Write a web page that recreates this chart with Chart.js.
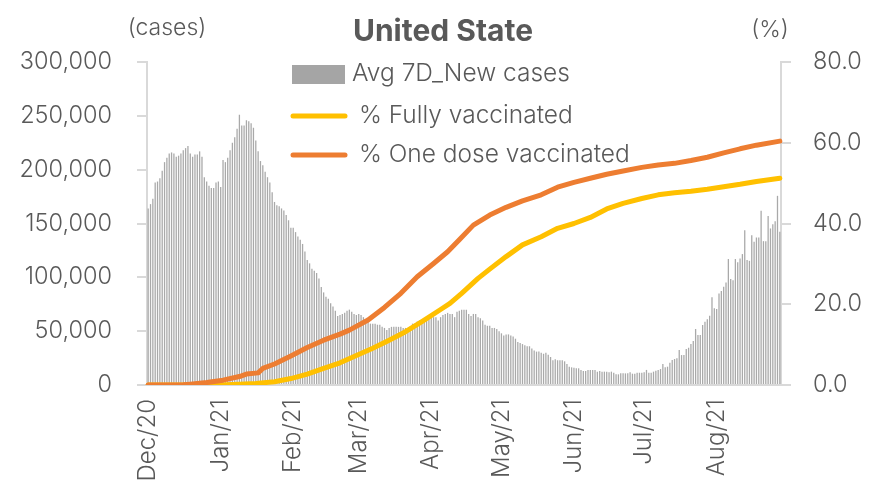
<!DOCTYPE html>
<html>
<head>
<meta charset="utf-8">
<script src="https://cdn.jsdelivr.net/npm/chart.js@4.4.1/dist/chart.umd.min.js"></script>
<style>
  html, body { margin: 0; padding: 0; background: #ffffff; }
  #wrap { width: 875px; height: 497px; position: relative; }
</style>
</head>
<body>
<div id="wrap"><canvas id="c" width="875" height="497"></canvas></div>
<script>
// ---- Data ----
const startDate = '2020-12-01';
const dayCount = 271;
const monthNames = ['Jan','Feb','Mar','Apr','May','Jun','Jul','Aug','Sep','Oct','Nov','Dec'];

// 7-day average of new cases, in thousands, one value per day from 1 Dec 2020
const newCasesK = [
  164,168,173,188,189,192,199,207,211,215,216,215,212,213,215,218,220,222,215,212,
  214,214,217,212,193,189,185,183,183,188,189,184,209,207,211,218,225,230,238,251,
  241,241,246,245,243,239,227,217,208,204,198,193,188,179,170,167,166,164,162,158,
  153,146,146,142,138,135,131,124,116,113,108,106,104,99,91,86,82,80,76,73,
  69,64,65,66,67,69,70,68,66,65,66,65,63,61,59,57,57,57,56,56,
  54,53,51,53,54,54,54,54,54,53,53,53,54,57,57,59,60,60,62,63,
  63,64,63,63,60,63,65,66,67,66,66,63,68,69,70,70,70,66,64,66,
  66,63,62,60,56,55,55,53,53,52,50,48,46,47,47,46,45,43,40,39,
  38,37,36,36,34,32,31,31,30,29,30,28,26,23,24,23,23,23,22,19.5,
  17,16.4,16,15.5,15.5,14,13,13,14,14,14,14,12.4,13,12.4,12.4,12.4,11.8,12.4,11.4,
  9.9,9.9,10.8,10.8,10.8,10.8,11.8,10.5,10.5,11.4,11.4,11.4,11.8,14,11.4,11.4,12.4,13.3,14,14.8,
  19.5,16.4,17,20.7,23.2,24.1,24.8,32.5,27.8,27.8,33.4,34.6,38,40.8,52,46.4,46.4,55.7,58.8,61,
  64.3,81.4,71.2,70.5,85,87.2,91.2,95.3,117,98.4,97.4,117,113.9,117.6,121.6,143.8,116,115.3,139.2,133,
  137,137,161.8,133.6,133.6,157,145.4,149.4,152.2,175.7,142.3
];

// % one dose vaccinated: [day index, value]
const oneDoseDays = [0,10,15,18,25,32,39,42,47,49,54,61,68,75,82,86,94,101,108,115,122,128,133,139,146,153,160,168,175,182,189,196,203,211,218,225,232,239,246,253,260,270];
const oneDosePct  = [0,0,0.05,0.2,0.6,1.2,2.1,2.7,3.0,4.1,5.2,7.2,9.3,11.1,12.6,13.6,16.1,19.2,22.7,26.8,30.1,33.0,36.0,39.6,42.1,44.0,45.6,47.1,49.0,50.2,51.2,52.2,53.0,53.9,54.5,54.9,55.6,56.4,57.5,58.5,59.4,60.4];

// % fully vaccinated: [day index, value]
const fullyDays = [0,30,39,46,54,61,68,75,82,89,96,103,110,117,125,129,134,141,146,153,160,168,175,182,189,196,203,211,218,225,232,239,246,253,260,270];
const fullyPct  = [0,0,0.2,0.4,0.8,1.6,2.7,4.1,5.5,7.3,9.1,11.1,13.2,15.7,18.7,20.2,22.7,26.4,28.7,31.8,34.7,36.7,38.8,40.0,41.5,43.6,45.0,46.2,47.1,47.6,48.0,48.5,49.1,49.7,50.4,51.2];

const leftTicks = { min: 0, max: 300000, step: 50000 };
const rightTicks = { min: 0, max: 80, step: 20 };

const seriesLabels = ['Avg 7D_New cases', ' % Fully vaccinated', ' % One dose vaccinated'];
const colors = { bar: '#a9a9a9', barLegend: '#a5a5a5', fully: '#ffc000', oneDose: '#ed7d31', text: '#595959', axis: '#d9d9d9' };

// ---- Build categories ----
const labels = [];
{
  const d0 = new Date(startDate + 'T00:00:00Z');
  for (let i = 0; i < dayCount; i++) {
    const d = new Date(d0.getTime() + i * 86400000);
    labels.push(d.toISOString().slice(0, 10));
  }
}
function monthLabel(lbl) {
  const y = lbl.slice(2, 4), m = parseInt(lbl.slice(5, 7), 10), day = lbl.slice(8, 10);
  if (day !== '01') return null;
  return monthNames[m - 1] + '/' + y;
}

const FONT = 'Inter, "DejaVu Sans", sans-serif';

const overlayPlugin = {
  id: 'overlay',
  afterDraw(chart) {
    const ctx = chart.ctx;
    ctx.save();
    ctx.fillStyle = colors.text;
    ctx.textBaseline = 'middle';
    // title
    ctx.font = 'bold 30px ' + FONT;
    ctx.textAlign = 'center';
    ctx.fillText('United State', 443, 32);
    // axis units
    ctx.font = '300 23px ' + FONT;
    ctx.fillText('(cases)', 167, 28);
    ctx.fillText('(%)', 770, 30);
    // legend
    ctx.textAlign = 'left';
    ctx.font = '300 24.5px ' + FONT;
    const ds = chart.data.datasets;
    // bar swatch
    ctx.fillStyle = colors.barLegend;
    ctx.fillRect(292, 65, 53, 19);
    ctx.fillStyle = colors.text;
    ctx.fillText(ds[0].label, 352, 74);
    const lineItems = [[ds[1], 116], [ds[2], 155]];
    for (const [d, y] of lineItems) {
      ctx.strokeStyle = d.borderColor;
      ctx.lineWidth = 5;
      ctx.lineCap = 'round';
      ctx.beginPath();
      ctx.moveTo(293, y);
      ctx.lineTo(345, y);
      ctx.stroke();
      ctx.fillStyle = colors.text;
      ctx.fillText(d.label, 352, y);
    }
    ctx.restore();
  }
};

new Chart(document.getElementById('c'), {
  data: {
    labels: labels,
    datasets: [
      {
        type: 'bar', label: seriesLabels[0], yAxisID: 'y',
        data: newCasesK.map(v => v * 1000),
        backgroundColor: colors.bar, barPercentage: 0.55, categoryPercentage: 1.0, order: 3
      },
      {
        type: 'line', label: seriesLabels[1], yAxisID: 'y1',
        data: fullyDays.map((d, i) => ({ x: labels[d], y: fullyPct[i] })),
        borderColor: colors.fully, backgroundColor: colors.fully, borderWidth: 5,
        pointRadius: 0, tension: 0, order: 2, borderCapStyle: 'round', borderJoinStyle: 'round'
      },
      {
        type: 'line', label: seriesLabels[2], yAxisID: 'y1',
        data: oneDoseDays.map((d, i) => ({ x: labels[d], y: oneDosePct[i] })),
        borderColor: colors.oneDose, backgroundColor: colors.oneDose, borderWidth: 5,
        pointRadius: 0, tension: 0, order: 1, borderCapStyle: 'round', borderJoinStyle: 'round'
      }
    ]
  },
  options: {
    responsive: false,
    animation: false,
    layout: { padding: { top: 62, left: 0, right: 0, bottom: 0 } },
    plugins: { legend: { display: false }, tooltip: { enabled: false }, title: { display: false } },
    scales: {
      x: {
        type: 'category',
        offset: true,
        grid: { display: false, drawTicks: false },
        border: { display: true, color: colors.axis, width: 2 },
        ticks: {
          autoSkip: false, minRotation: 90, maxRotation: 90, padding: 14,
          color: colors.text, font: { family: FONT, size: 24, weight: '300' },
          callback: function (v, i) { return monthLabel(labels[i]); }
        },
        afterFit(s) { s.height = 112; }
      },
      y: {
        position: 'left', min: leftTicks.min, max: leftTicks.max,
        grid: { drawOnChartArea: false, tickLength: 10, color: colors.axis, lineWidth: 2 },
        border: { display: true, color: colors.axis, width: 2 },
        ticks: {
          stepSize: leftTicks.step, padding: 25, color: colors.text,
          font: { family: FONT, size: 23.5, weight: '300' },
          callback: v => v.toLocaleString('en-US')
        },
        afterFit(s) { s.width = 147; }
      },
      y1: {
        position: 'right', min: rightTicks.min, max: rightTicks.max,
        grid: { drawOnChartArea: false, tickLength: 10, color: colors.axis, lineWidth: 2 },
        border: { display: true, color: colors.axis, width: 2 },
        ticks: {
          stepSize: rightTicks.step, padding: 22, color: colors.text,
          font: { family: FONT, size: 23.5, weight: '300' },
          callback: v => v.toFixed(1)
        },
        afterFit(s) { s.width = 94; }
      }
    }
  },
  plugins: [overlayPlugin]
});
</script>
</body>
</html>
